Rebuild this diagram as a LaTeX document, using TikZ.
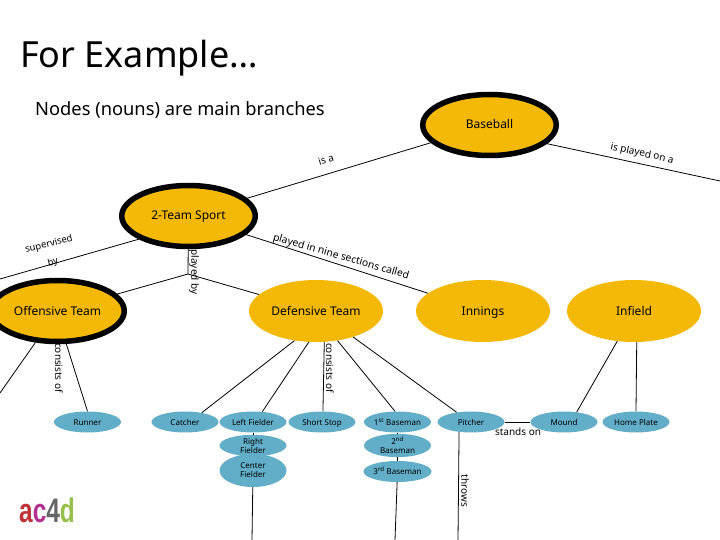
\documentclass[tikz,border=0pt]{standalone}
\usepackage{fontspec}
\setmainfont{Noto Sans}
\newfontfamily\logofont{Liberation Sans}
\usetikzlibrary{shapes.geometric}
\definecolor{nodeorange}{HTML}{F4B906}
\definecolor{leafblue}{HTML}{62ADC7}
\definecolor{logored}{HTML}{BE3238}
\definecolor{logopink}{HTML}{B5318F}
\definecolor{logogray}{HTML}{666668}
\definecolor{logogreen}{HTML}{95BE4A}
\tikzset{
  main/.style={ellipse,fill=nodeorange,inner sep=0pt,minimum width=134pt,minimum height=62pt,text height=10pt,text depth=2pt,font=\fontsize{12}{14}\selectfont},
  mainthick/.style={main,draw=black,line width=5.5pt,minimum width=133.5pt,minimum height=61pt},
  leaf/.style={ellipse,fill=leafblue,inner sep=0pt,minimum width=67pt,minimum height=21pt,align=center,font=\fontsize{8}{9}\selectfont},
  leafline/.style={leaf,text height=7pt,text depth=1pt},
  link/.style={font=\fontsize{10}{12}\selectfont,inner sep=0pt},
  conn/.style={line width=0.8pt}
}
\begin{document}
\begin{tikzpicture}[x=1pt,y=-1pt]
  \useasboundingbox (0,0) rectangle (720,540);
  \node[font=\fontsize{36}{40}\selectfont,anchor=base west,inner sep=0pt] (title) at (20,68) {For Example…};
  \node[font=\fontsize{18.3}{20}\selectfont,anchor=base west,inner sep=0pt] (subtitle) at (35,116) {Nodes (nouns) are main branches};

  \node[mainthick] (baseball) at (489.5,125) {Baseball};
  \node[mainthick] (sport) at (188.5,216) {2-Team Sport};
  \node[mainthick] (offense) at (57.5,311) {Offensive Team};
  \node[main] (defense) at (316,311) {Defensive Team};
  \node[main] (innings) at (483,311) {Innings};
  \node[main] (infield) at (634,311) {Infield};

  \node[leafline] (runner) at (87.5,422) {Runner};
  \node[leafline] (catcher) at (185,422) {Catcher};
  \node[leafline] (leftf) at (253,422) {Left Fielder};
  \node[leaf] (rightf) at (253,445.5) {Right\\Fielder};
  \node[leaf,minimum height=33pt] (centerf) at (253,470.5) {Center\\Fielder};
  \node[leafline] (short) at (322,422) {Short Stop};
  \node[leafline] (first) at (397.5,422) {1\textsuperscript{st} Baseman};
  \node[leaf] (second) at (397.5,445.5) {2\textsuperscript{nd}\\Baseman};
  \node[leafline] (third) at (397.5,471.5) {3\textsuperscript{rd} Baseman};
  \node[leafline] (pitcher) at (471,422) {Pitcher};
  \node[leafline] (mound) at (564,422) {Mound};
  \node[leafline] (plate) at (636,422) {Home Plate};

  \coordinate (fieldend) at (720,181);
  \coordinate (supervend) at (0,279);
  \coordinate (playfork) at (188,274);
  \coordinate (offend) at (0,393);
  \coordinate (centerend) at (252,540);
  \coordinate (thirdend) at (395,540);
  \coordinate (throwend) at (458,540);

  \draw[conn] (baseball) -- (sport);
  \draw[conn] (baseball.-18) -- (fieldend);
  \draw[conn] (sport.-155) -- (supervend);
  \draw[conn] (sport) -- (playfork);
  \draw[conn] (playfork) -- (offense);
  \draw[conn] (playfork) -- (defense);
  \draw[conn] (sport) -- (innings);
  \draw[conn] (offense.-125) -- (offend);
  \draw[conn] (offense.-75) -- (runner.90);
  \draw[conn] (defense.-126) -- (catcher.29);
  \draw[conn] (defense.-103) -- (leftf.48);
  \draw[conn] (defense.-75) -- (short.85);
  \draw[conn] (defense.-54) -- (first.103);
  \draw[conn] (defense.-35) -- (pitcher.146);
  \draw[conn] (infield.-119) -- (mound.38);
  \draw[conn] (infield.-85) -- (plate.90);
  \draw[conn] (pitcher) -- (mound);
  \draw[conn] (leftf) -- (rightf);
  \draw[conn] (centerf) -- (centerend);
  \draw[conn] (first) -- (second);
  \draw[conn] (second) -- (third);
  \draw[conn] (third.-92) -- (thirdend);
  \draw[conn] (pitcher.-140) -- (throwend);

  \node[link,rotate=17] (isa) at (326,160) {is a};
  \node[link,rotate=-12] (playedon) at (642,154) {is played on a};
  \node[link,rotate=14,font=\fontsize{9.5}{12}\selectfont] (superv) at (49,244.5) {supervised};
  \node[link,rotate=14,font=\fontsize{9.5}{12}\selectfont] (supervby) at (53,262.5) {by};
  \node[link,rotate=-90] (playedby) at (194,272) {played by};
  \node[link,rotate=-16,font=\fontsize{10.3}{12}\selectfont] (innlink) at (341,257) {played in nine sections called};
  \node[link,rotate=-90] (offcons) at (59,368) {consists of};
  \node[link,rotate=-90] (defcons) at (330,368) {consists of};
  \node[link] (standson) at (518,432) {stands on};
  \node[link,rotate=-90] (throws) at (465,491) {throws};

  \node[font=\logofont\bfseries\fontsize{34}{36}\selectfont,xscale=0.72,anchor=base west,inner sep=0pt] (logo) at (19,522) {\textcolor{logored}{a}\textcolor{logopink}{c}\textcolor{logogray}{4}\textcolor{logogreen}{d}};
\end{tikzpicture}
\end{document}
